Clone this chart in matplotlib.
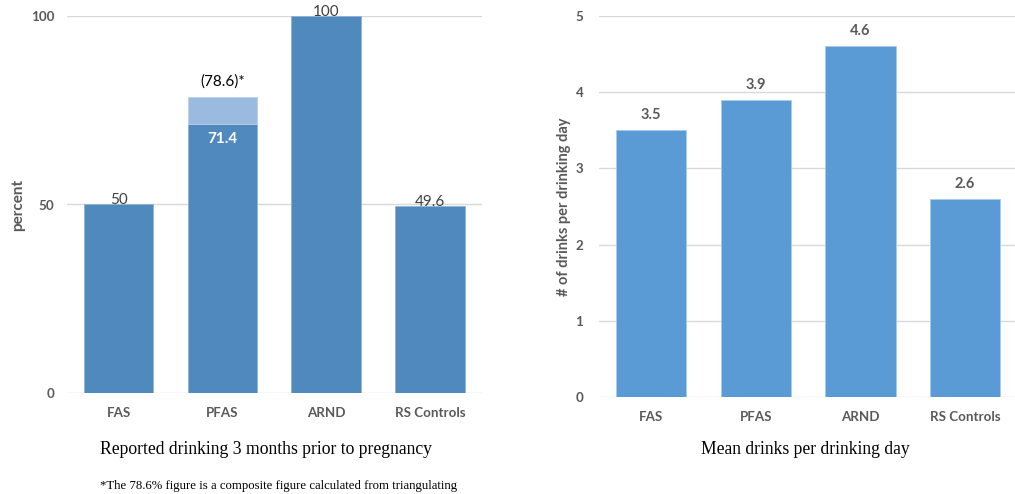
import matplotlib
matplotlib.use("Agg")
import matplotlib.pyplot as plt

# Data
groups = ["FAS", "PFAS", "ARND", "RS Controls"]
pct_reported = [50, 71.4, 100, 49.6]
pct_labels = ["50", "71.4", "100", "49.6"]
pfas_composite = 78.6
mean_drinks = [3.5, 3.9, 4.6, 2.6]

DARK = "#4F89BD"
LIGHT = "#9BBAE0"
RIGHT = "#5B9BD5"
GRID = "#D9D9D9"
TICK = "#595959"
FONT = "Lato"

fig = plt.figure(figsize=(10.15, 4.94), dpi=100)
fig.patch.set_facecolor("white")

W, H = 1015.0, 494.0
ax1 = fig.add_axes([66.7 / W, 1 - 393 / H, 415 / W, 377 / H])
ax2 = fig.add_axes([598.7 / W, 1 - 397 / H, 418.8 / W, 381 / H])

x = list(range(len(groups)))
bw = 0.67


def style(ax, ticks, ylim, pady):
    ax.set_xlim(-0.5, len(groups) - 0.5)
    ax.set_ylim(*ylim)
    ax.set_yticks(ticks)
    ax.set_xticks(x)
    ax.set_xticklabels(groups)
    for s in ax.spines.values():
        s.set_visible(False)
    ax.grid(axis="y", color=GRID, linewidth=1.0)
    ax.set_axisbelow(True)
    ax.tick_params(axis="both", length=0, colors=TICK)
    ax.tick_params(axis="x", pad=10)
    ax.tick_params(axis="y", pad=pady)
    for lab in ax.get_xticklabels() + ax.get_yticklabels():
        lab.set_fontfamily(FONT)
        lab.set_fontweight("bold")
        lab.set_fontsize(9.6)


# Left panel: reported drinking before pregnancy
style(ax1, [0, 50, 100], (0, 100), 9)
ax1.bar(x, pct_reported, width=bw, color=DARK, edgecolor="#8FB3DA", linewidth=0.6, zorder=2)
ax1.bar(x[1], pfas_composite - pct_reported[1], bottom=pct_reported[1], width=bw,
        color=LIGHT, edgecolor="#B9CFEA", linewidth=0.6, zorder=2)
for i, (v, t) in enumerate(zip(pct_reported, pct_labels)):
    if i == 1:
        ax1.annotate(t, (i, v), xytext=(0, -11), textcoords="offset points",
                     ha="center", va="center", color="white", fontsize=11,
                     fontweight="bold", fontfamily=FONT)
    else:
        ax1.annotate(t, (i, v), xytext=(0, 3), textcoords="offset points",
                     ha="center", va="center", color="#404040", fontsize=11,
                     fontfamily=FONT, zorder=3)
ax1.annotate(f"({pfas_composite})*", (1, pfas_composite), xytext=(0, 11),
             textcoords="offset points", ha="center", va="center",
             color="black", fontsize=11, fontfamily=FONT)
ax1.set_ylabel("percent", fontfamily=FONT, fontweight="bold", fontsize=11,
               color=TICK, labelpad=4)

# Right panel: mean drinks per drinking day
style(ax2, [0, 1, 2, 3, 4, 5], (0, 5), 11)
ax2.bar(x, mean_drinks, width=bw, color=RIGHT, edgecolor="#A8CBEC", linewidth=0.6, zorder=2)
for i, v in enumerate(mean_drinks):
    ax2.annotate(f"{v}", (i, v), xytext=(0, 11), textcoords="offset points",
                 ha="center", va="center", color=TICK, fontsize=10.5,
                 fontweight="bold", fontfamily=FONT)
ax2.set_ylabel("# of drinks per drinking day", fontfamily=FONT, fontweight="bold",
               fontsize=10.5, color=TICK, labelpad=3)

# Captions beneath the panels
fig.text(266 / W, 1 - 449 / H, "Reported drinking 3 months prior to pregnancy",
         ha="center", va="center", fontfamily="Liberation Serif", fontsize=12.7,
         color="black")
fig.text(805 / W, 1 - 449 / H, "Mean drinks per drinking day",
         ha="center", va="center", fontfamily="Liberation Serif", fontsize=12.7,
         color="black")
fig.text(100 / W, 1 - 489 / H,
         "*The 78.6% figure is a composite figure calculated from triangulating",
         ha="left", va="baseline", fontfamily="Liberation Serif", fontsize=9.2,
         color="black")

fig.savefig("out.png", dpi=100, facecolor="white")
